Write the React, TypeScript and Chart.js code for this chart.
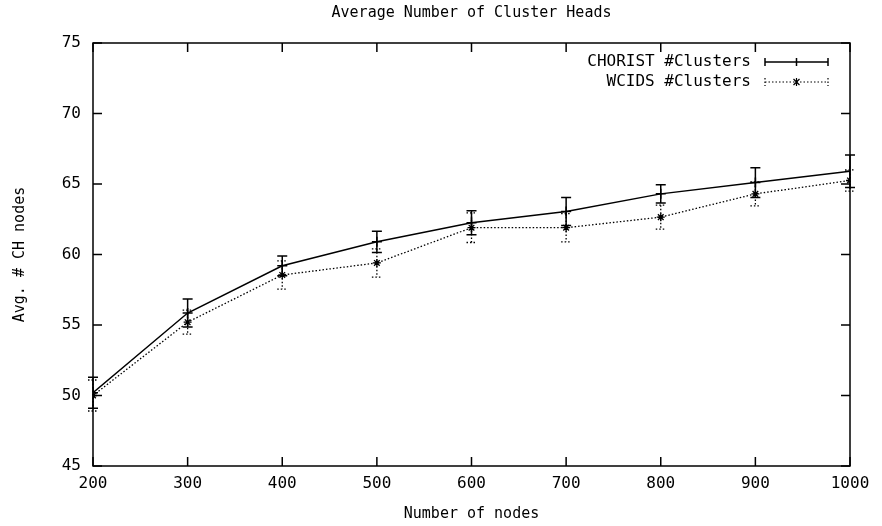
import React, { useEffect, useRef } from "react";
import { Chart, registerables } from "chart.js";

Chart.register(...registerables);

const nodes = [200, 300, 400, 500, 600, 700, 800, 900, 1000];
const choristMean = [50.2, 55.85, 59.2, 60.9, 62.25, 63.05, 64.3, 65.1, 65.9];
const choristErr = [1.1, 1.0, 0.7, 0.75, 0.85, 1.0, 0.65, 1.05, 1.15];
const wcidsMean = [50.0, 55.2, 58.55, 59.4, 61.9, 61.9, 62.65, 64.3, 65.25];
const wcidsErr = [1.1, 0.85, 1.0, 1.0, 1.05, 1.0, 0.85, 0.85, 0.75];

const seriesNames = ["CHORIST #Clusters", "WCIDS #Clusters"];
const chartTitle = "Average Number of Cluster Heads";
const xTitle = "Number of nodes";
const yTitle = "Avg. # CH nodes";

const FONT = '"DejaVu Sans Mono", "Liberation Mono", monospace';

const gnuplotPlugin = {
  id: "gnuplotDecor",
  afterDatasetsDraw(chart: any) {
    const { ctx, chartArea, scales } = chart;
    const xs = scales.x;
    const ys = scales.y;
    ctx.save();
    // error bars
    const errs = [choristErr, wcidsErr];
    chart.data.datasets.forEach((ds: any, di: number) => {
      ctx.strokeStyle = "#000";
      ctx.lineWidth = di === 0 ? 1.5 : 1.3;
      ctx.setLineDash(di === 0 ? [] : [1.5, 2]);
      ds.data.forEach((p: any, i: number) => {
        const px = xs.getPixelForValue(p.x);
        const yTop = ys.getPixelForValue(p.y + errs[di][i]);
        const yBot = ys.getPixelForValue(p.y - errs[di][i]);
        ctx.beginPath();
        ctx.moveTo(px, yTop);
        ctx.lineTo(px, yBot);
        ctx.moveTo(px - 5, yTop);
        ctx.lineTo(px + 5, yTop);
        ctx.moveTo(px - 5, yBot);
        ctx.lineTo(px + 5, yBot);
        ctx.stroke();
      });
    });
    ctx.setLineDash([]);
    // frame
    const { left, right, top, bottom } = chartArea;
    ctx.strokeStyle = "#000";
    ctx.lineWidth = 1.5;
    ctx.strokeRect(left, top, right - left, bottom - top);
    // inner ticks
    const tl = 9;
    ctx.beginPath();
    xs.ticks.forEach((t: any) => {
      const px = xs.getPixelForValue(t.value);
      ctx.moveTo(px, bottom);
      ctx.lineTo(px, bottom - tl);
      ctx.moveTo(px, top);
      ctx.lineTo(px, top + tl);
    });
    ys.ticks.forEach((t: any) => {
      const py = ys.getPixelForValue(t.value);
      ctx.moveTo(left, py);
      ctx.lineTo(left + tl, py);
      ctx.moveTo(right, py);
      ctx.lineTo(right - tl, py);
    });
    ctx.stroke();
    // title
    ctx.fillStyle = "#000";
    ctx.font = "15px " + FONT;
    ctx.textAlign = "center";
    ctx.textBaseline = "middle";
    ctx.fillText(chartTitle, (left + right) / 2, 13);
    // legend
    ctx.font = "16px " + FONT;
    ctx.textAlign = "right";
    const x1 = right - 22;
    const x0 = right - 85;
    const textX = right - 99;
    seriesNames.forEach((name, i) => {
      const y = top + 19 + i * 20;
      ctx.fillText(name, textX, y);
      ctx.lineWidth = i === 0 ? 1.5 : 1.2;
      ctx.setLineDash(i === 0 ? [] : [1.5, 2]);
      ctx.beginPath();
      ctx.moveTo(x0, y);
      ctx.lineTo(x1, y);
      ctx.moveTo(x0, y - 4);
      ctx.lineTo(x0, y + 4);
      ctx.moveTo(x1, y - 4);
      ctx.lineTo(x1, y + 4);
      ctx.stroke();
      ctx.setLineDash([]);
      const mx = (x0 + x1) / 2;
      ctx.beginPath();
      if (i === 0) {
        ctx.moveTo(mx, y - 4);
        ctx.lineTo(mx, y + 4);
      } else {
        ctx.moveTo(mx - 3, y - 3);
        ctx.lineTo(mx + 3, y + 3);
        ctx.moveTo(mx + 3, y - 3);
        ctx.lineTo(mx - 3, y + 3);
        ctx.moveTo(mx, y - 4);
        ctx.lineTo(mx, y + 4);
      }
      ctx.stroke();
    });
    ctx.restore();
  },
};

export default function App() {
  const ref = useRef<HTMLCanvasElement | null>(null);
  useEffect(() => {
    document.body.style.margin = "0";
    const canvas = ref.current;
    if (!canvas) return;
    const chart = new Chart(canvas, {
      type: "line",
      data: {
        datasets: [
          {
            label: seriesNames[0],
            data: nodes.map((n, i) => ({ x: n, y: choristMean[i] })),
            borderColor: "#000",
            backgroundColor: "#000",
            borderWidth: 1.5,
            pointStyle: "cross",
            pointRadius: 5,
            pointBorderWidth: 1.5,
            tension: 0,
          },
          {
            label: seriesNames[1],
            data: nodes.map((n, i) => ({ x: n, y: wcidsMean[i] })),
            borderColor: "#000",
            backgroundColor: "#000",
            borderWidth: 1.3,
            borderDash: [1.5, 2],
            pointStyle: "star",
            pointRadius: 4,
            pointBorderWidth: 1.3,
            tension: 0,
          },
        ],
      },
      options: {
        animation: false,
        responsive: false,
        layout: { padding: { top: 43, right: 32, left: 0, bottom: 0 } },
        plugins: {
          legend: { display: false },
          tooltip: { enabled: false },
          title: { display: false },
        },
        scales: {
          x: {
            type: "linear",
            min: 200,
            max: 1000,
            ticks: {
              stepSize: 100,
              color: "#000",
              font: { family: FONT, size: 16 },
              padding: 8,
              maxRotation: 0,
              callback: (v: any) => String(v),
            },
            grid: { display: false, drawTicks: false },
            border: { display: false },
            title: { display: true, text: xTitle, color: "#000", font: { family: FONT, size: 15 }, padding: { top: 4, bottom: 3 } },
            afterFit: (s: any) => { s.height = 60; },
          },
          y: {
            type: "linear",
            min: 45,
            max: 75,
            ticks: { stepSize: 5, color: "#000", font: { family: FONT, size: 16 }, padding: 12, callback: (v: any) => String(v) },
            grid: { display: false, drawTicks: false },
            border: { display: false },
            title: { display: true, text: yTitle, color: "#000", font: { family: FONT, size: 15 }, padding: { top: 11, bottom: 0 } },
            afterFit: (s: any) => { s.width = 93; },
          },
        },
      },
      plugins: [gnuplotPlugin],
    } as any);
    return () => chart.destroy();
  }, []);
  return <canvas ref={ref} width={882} height={526} style={{ display: "block" }} />;
}
